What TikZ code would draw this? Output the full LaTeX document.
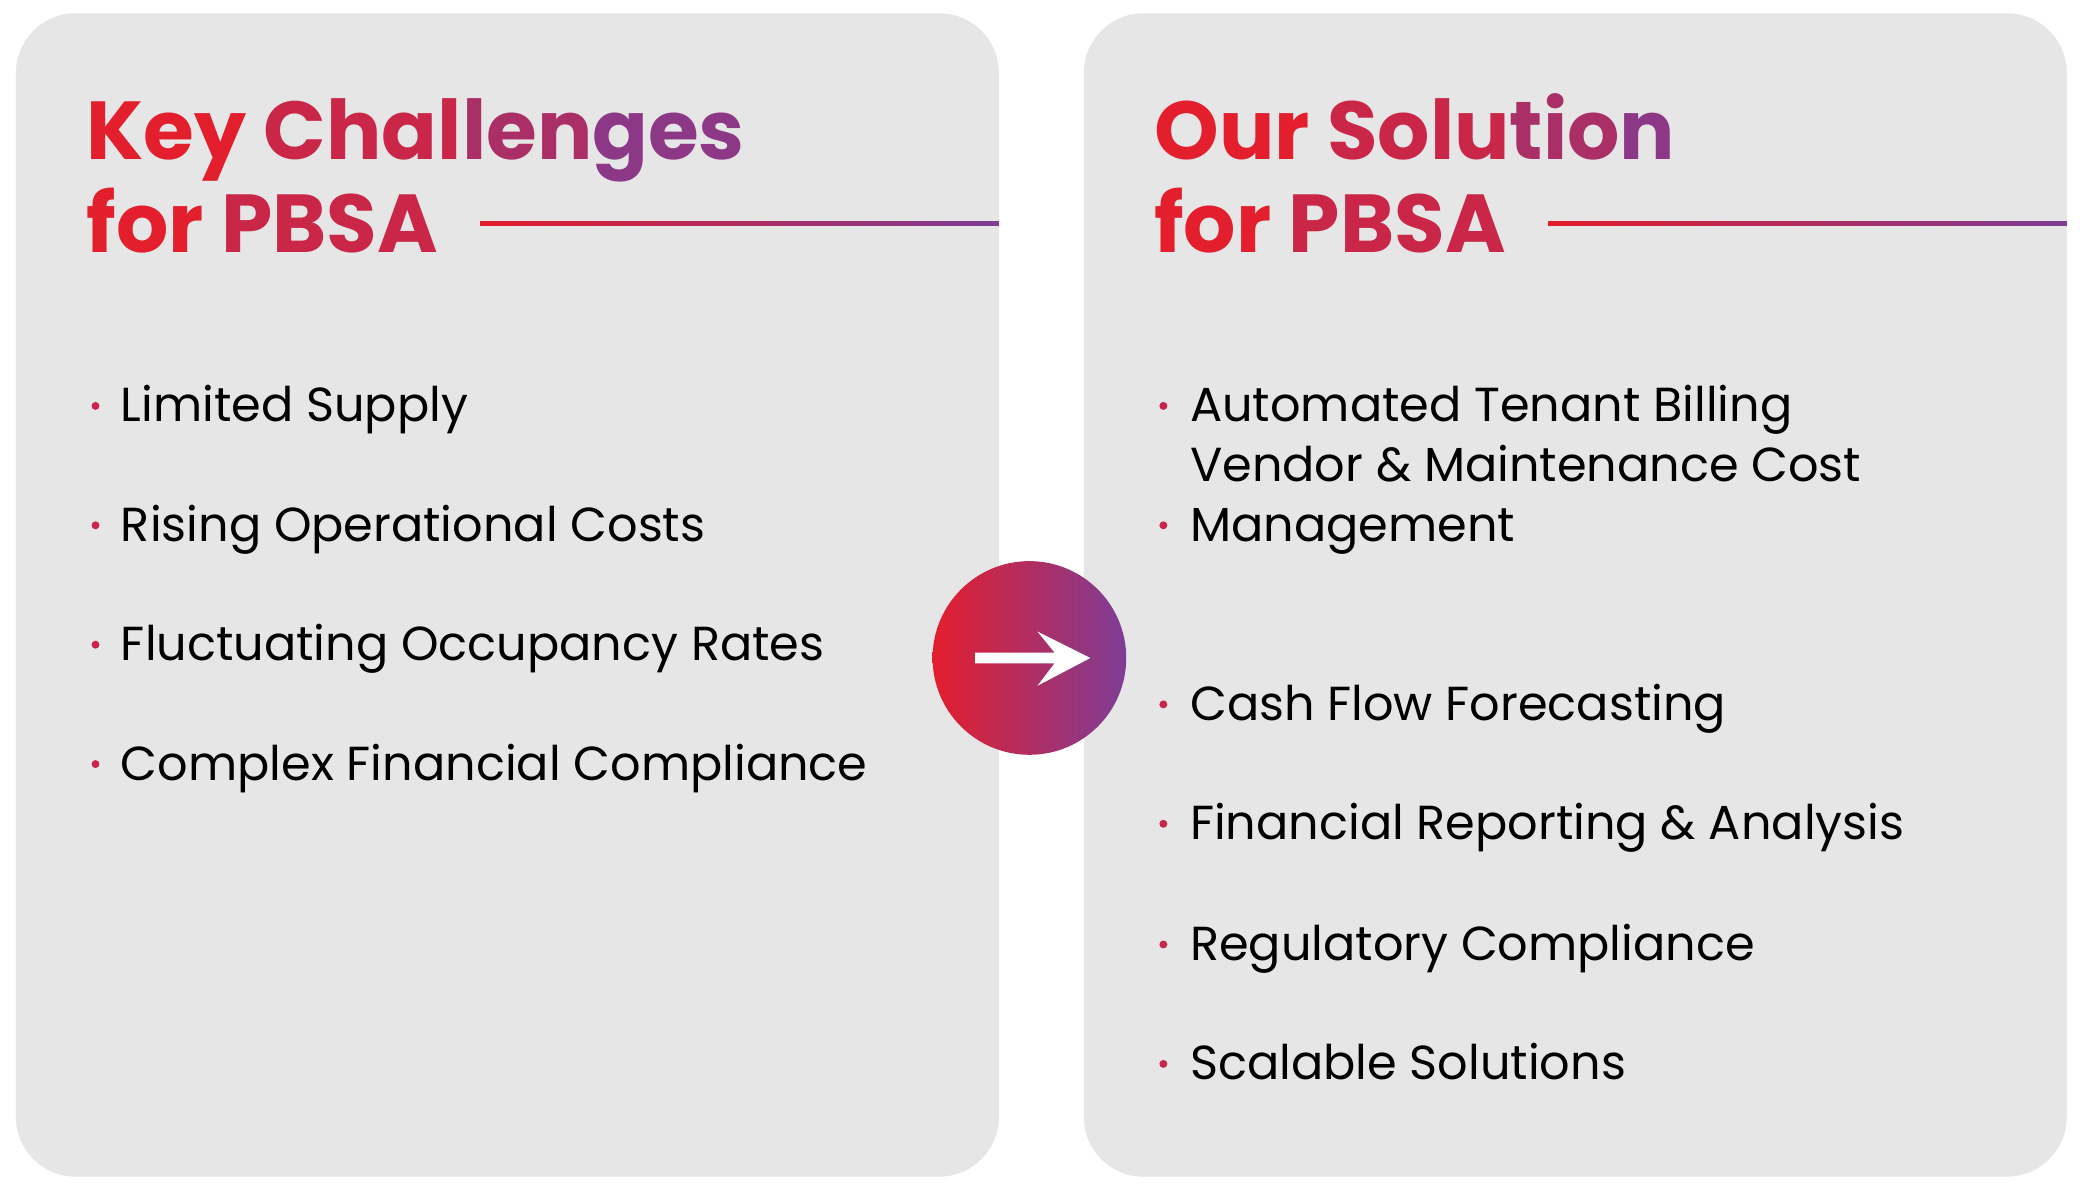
\documentclass[tikz,border=0pt]{standalone}
\usepackage{fontspec}
\setmainfont{Poppins}
\usetikzlibrary{shadings}
\definecolor{pred}{HTML}{E31E2D}
\definecolor{ppur}{HTML}{7E3D96}
\definecolor{panel}{HTML}{E6E6E6}
\definecolor{bul}{HTML}{C8244C}
\tikzset{
 panelbox/.style={fill=panel,rounded corners=45pt},
 head/.style={anchor=base west,font=\fontsize{62}{66}\selectfont\bfseries,inner sep=0},
 item/.style={anchor=base west,font=\fontsize{36}{45}\selectfont,inner sep=0,align=left,text=black},
 dotb/.style={circle,fill=bul,inner sep=0,minimum size=6pt}
}
\newcommand{\gk}[1]{\textcolor{pred}{#1}}
\newcommand{\gi}[1]{\textcolor{pred!75!ppur}{#1}}
\newcommand{\gj}[1]{\textcolor{pred!45!ppur}{#1}}
\newcommand{\gl}[1]{\textcolor{pred!15!ppur}{#1}}
\begin{document}
\begin{tikzpicture}[x=1pt,y=-1pt]
\useasboundingbox (0,0) rectangle (1568,902);
\fill[white] (0,0) rectangle (1568,902);
\fill[panelbox] (12,10) rectangle (753,887);
\fill[panelbox] (817,10) rectangle (1558,887);
% headings
\node[head] (h1) at (65,120) {\gk{Key }\gi{Chal}\gj{len}\gl{ges}};
\node[head] (h2) at (65,190) {\gk{for }\gi{PBSA}};
\node[head] (h3) at (870,120) {\gk{Our }\gi{Solu}\gj{tio}\gl{n}};
\node[head] (h4) at (870,190) {\gk{for }\gi{PBSA}};
\coordinate (l1a) at (362,168); \coordinate (l1b) at (753,168);
\coordinate (l2a) at (1167,168); \coordinate (l2b) at (1558,168);
\shade[left color=pred,right color=ppur] (362,167) rectangle (753,170);
\shade[left color=pred,right color=ppur] (1167,167) rectangle (1558,170);
% left items
\foreach \t/\y [count=\i] in {Limited Supply/318,Rising Operational Costs/408,Fluctuating Occupancy Rates/498,Complex Financial Compliance/588}{
 \node[dotb] (ld\i) at (72,\y-12) {};
 \node[item] (lt\i) at (91,\y) {\t};
}
% right items
\foreach \t/\y [count=\i] in {Automated Tenant Billing/318,Vendor \& Maintenance Cost\\Management/408,Cash Flow Forecasting/543,Financial Reporting \& Analysis/633,Regulatory Compliance/724,Scalable Solutions/814}{
 \node[dotb] (rd\i) at (877,\y-12) {};
 \node[item] (rt\i) at (897,\y) {\t};
}
% circle arrow
\shade[left color=pred,right color=ppur] (776,496) circle (73);
\node (c) at (776,496) {};
\fill[white] (735,492) -- (795,492) -- (782,476) -- (822,496) -- (782,517) -- (795,500) -- (735,500) -- cycle;
\end{tikzpicture}
\end{document}
